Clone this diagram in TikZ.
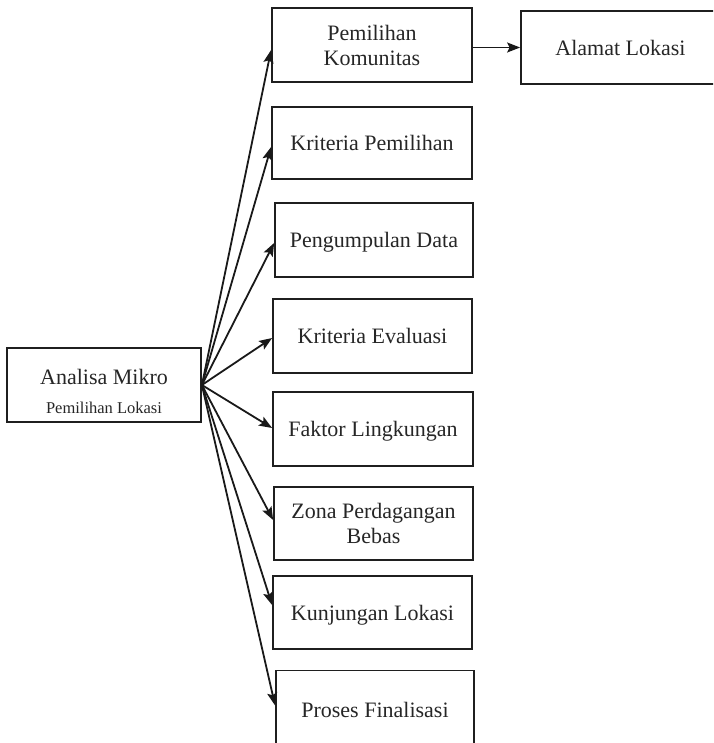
\documentclass[tikz,border=0pt]{standalone}
\usepackage{fontspec}
\setmainfont{Liberation Serif}
\usetikzlibrary{arrows.meta}
\begin{document}
\begin{tikzpicture}[x=1pt,y=-1pt,
  box/.style={draw=black!88, line width=1.8pt, minimum width=200pt,
    minimum height=73pt, inner sep=0pt, align=center, text=black!85,
    font=\fontsize{22}{25}\selectfont},
  oneline/.style={text height=15.4pt, text depth=0pt},
  link/.style={draw=black!90, line width=1.8pt,
    -{Stealth[length=13pt,width=10pt,inset=2.5pt]}}
]
\clip (0,0) rectangle (713,743);

% source box
\node[box, minimum width=194pt, minimum height=74pt] (mikro) at (104,385) {};
\node[anchor=base, inner sep=0pt, text=black!85, font=\fontsize{22}{25}\selectfont]
  (mikroA) at (104,384) {Analisa Mikro};
\node[anchor=base, inner sep=0pt, text=black!85, font=\fontsize{16.5}{19}\selectfont]
  (mikroB) at (104,413.5) {Pemilihan Lokasi};

% target boxes
\node[box, minimum height=74pt] (b1) at (372,45) {Pemilihan\\Komunitas};
\node[box, oneline, minimum height=72pt] (b2) at (372,143) {Kriteria Pemilihan};
\node[box, oneline, minimum width=198pt, minimum height=74pt] (b3) at (374,240) {Pengumpulan Data};
\node[box, oneline, minimum width=199pt, minimum height=74pt] (b4) at (372.5,336) {Kriteria Evaluasi};
\node[box, oneline, minimum height=74pt] (b5) at (373,429) {Faktor Lingkungan};
\node[box, minimum width=199pt] (b6) at (373.5,523.5) {Zona Perdagangan\\Bebas};
\node[box, oneline, minimum width=199pt] (b7) at (372.5,612.5) {Kunjungan Lokasi};
\node[box, oneline, minimum width=198pt, minimum height=78pt] (b8) at (375,709.5) {Proses Finalisasi};
\node[box, oneline, minimum width=199pt] (alamat) at (620.5,47.5) {Alamat Lokasi};

% connectors
\draw[link] (mikro.east) -- ([yshift=-5pt]b1.west);
\draw[link] (mikro.east) -- ([yshift=-4pt]b2.west);
\draw[link] (mikro.east) -- ([yshift=-3pt]b3.west);
\draw[link] (mikro.east) -- ([yshift=-2pt]b4.west);
\draw[link] (mikro.east) -- ([yshift=1pt]b5.west);
\draw[link] (mikro.east) -- ([yshift=3.5pt]b6.west);
\draw[link] (mikro.east) -- ([yshift=7.5pt]b7.west);
\draw[link] (mikro.east) -- ([yshift=4pt]b8.west);
\draw[link] (b1.east |- alamat.west) -- (alamat.west);
\end{tikzpicture}
\end{document}
